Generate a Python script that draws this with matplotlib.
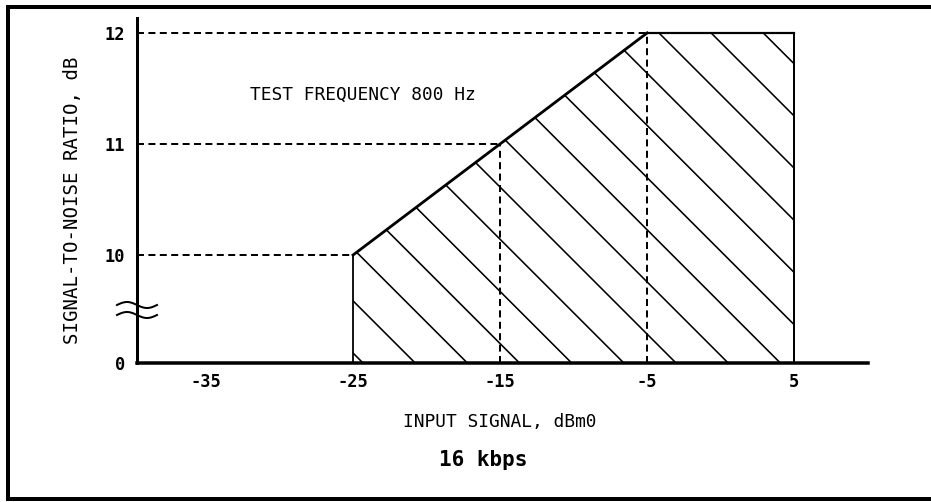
import numpy as np
import matplotlib
matplotlib.use("Agg")
import matplotlib.pyplot as plt
from matplotlib.lines import Line2D

DPI = 313
W, H = 931, 502

def pt(px):
    return px * 72.0 / DPI

# ---- data ----
input_signal = [-25, -25, -5, 5, 5]          # dBm0, outline of the region
snr = [0, 10, 12, 12, 0]                     # dB
ref_x = [-25, -15, -5]                       # dashed reference points
ref_snr = [10, 11, 12]
x_ticks = [-35, -25, -15, -5, 5]
x_ticklabels = ["-35", "-25", "-15", "-5", "5"]
y_ticks = [0, 10, 11, 12]
y_ticklabels = ["0", "10", "11", "12"]

XMIN, XMAX = -39.7, 10.03
BREAK_BASE, BREAK_SLOPE = 9.027, 0.0973

def fwd(v):
    v = np.asarray(v, dtype=float)
    return np.where(v >= 10, v, BREAK_BASE + v * BREAK_SLOPE)

def inv(p):
    p = np.asarray(p, dtype=float)
    return np.where(p >= 10, p, (p - BREAK_BASE) / BREAK_SLOPE)

plt.rcParams['hatch.linewidth'] = pt(1.6)
plt.rcParams['font.family'] = ['DejaVu Sans Mono', 'DejaVu Sans']

fig = plt.figure(figsize=(W / DPI, H / DPI), dpi=DPI)
fig.patch.set_facecolor('white')

# outer frame (right side is cut off in the original)
fx = [W + 5, 8, 8, W + 5]
fy = [7, 7, 499, 499]
fig.lines.append(Line2D([v / W for v in fx], [1 - v / H for v in fy],
                        transform=fig.transFigure, color='black',
                        linewidth=pt(4), solid_joinstyle='miter'))

ax_l, ax_r, ax_b, ax_t = 137, 868, 363, 18
ax = fig.add_axes([ax_l / W, 1 - ax_b / H, (ax_r - ax_l) / W, (ax_b - ax_t) / H])
ax.set_yscale('function', functions=(fwd, inv))
ax.set_xlim(XMIN, XMAX)
ax.set_ylim(0, 12.135)

for s in ['top', 'right']:
    ax.spines[s].set_visible(False)
ax.spines['left'].set_linewidth(pt(3))
ax.spines['bottom'].set_linewidth(pt(3.5))

fs_tick = pt(17)
ax.set_xticks(x_ticks)
ax.set_xticklabels(x_ticklabels)
ax.set_yticks(y_ticks)
ax.set_yticklabels(y_ticklabels)
ax.yaxis.set_minor_locator(matplotlib.ticker.NullLocator())
ax.tick_params(axis='both', length=0, labelsize=fs_tick)
ax.tick_params(axis='y', pad=pt(12))
ax.tick_params(axis='x', pad=pt(10))
for lab in ax.get_xticklabels() + ax.get_yticklabels():
    lab.set_fontweight('bold')

# hatched region
ax.fill_between(input_signal[1:-1], 0, snr[1:-1], facecolor='none',
                edgecolor='black', linewidth=0, hatch='\\\\')
# outline
ax.plot(input_signal[:2], snr[:2], color='black', lw=pt(1.8), solid_capstyle='butt')
ax.plot(input_signal[1:3], snr[1:3], color='black', lw=pt(2.8))
ax.plot(input_signal[2:4], snr[2:4], color='black', lw=pt(2.2))
ax.plot(input_signal[3:], snr[3:], color='black', lw=pt(2.0))

# dashed reference lines
for xr, yr in zip(ref_x, ref_snr):
    ax.plot([XMIN, xr], [yr, yr], color='black', lw=pt(2),
            linestyle=(0, (3.5, 2.2)))
for xr, yr in zip(ref_x[1:], ref_snr[1:]):
    ax.plot([xr, xr], [0, yr], color='black', lw=pt(2),
            linestyle=(0, (3.5, 2.2)))

# axis break marks
tt = np.linspace(-1, 1, 60)
wx = tt * 20 / (ax_r - ax_l)
for off in (-5, 5):
    wy = (363 - 310 + off) / (ax_b - ax_t) + np.sin(tt * np.pi) * (-3.0) / (ax_b - ax_t)
    ax.plot(wx, wy, color='black', lw=pt(2), transform=ax.transAxes, clip_on=False)

ax.text((250 - ax_l) / (ax_r - ax_l), (ax_b - 95) / (ax_b - ax_t),
        "TEST FREQUENCY 800 Hz", transform=ax.transAxes, ha='left', va='center',
        fontsize=pt(18))

ax.set_xlabel("INPUT SIGNAL, dBm0", fontsize=pt(18))
ax.xaxis.set_label_coords((500 - ax_l) / (ax_r - ax_l), (ax_b - 422) / (ax_b - ax_t))
ax.xaxis.label.set_va('center')
ax.set_ylabel("SIGNAL-TO-NOISE RATIO, dB", fontsize=pt(19))
ax.yaxis.set_label_coords((73 - ax_l) / (ax_r - ax_l), (ax_b - 200) / (ax_b - ax_t))
ax.yaxis.label.set_va('center')

fig.text(483 / W, 1 - 460 / H, "16 kbps", ha='center', va='center',
         fontsize=pt(21), fontweight='bold')

fig.savefig("out.png", dpi=DPI)
